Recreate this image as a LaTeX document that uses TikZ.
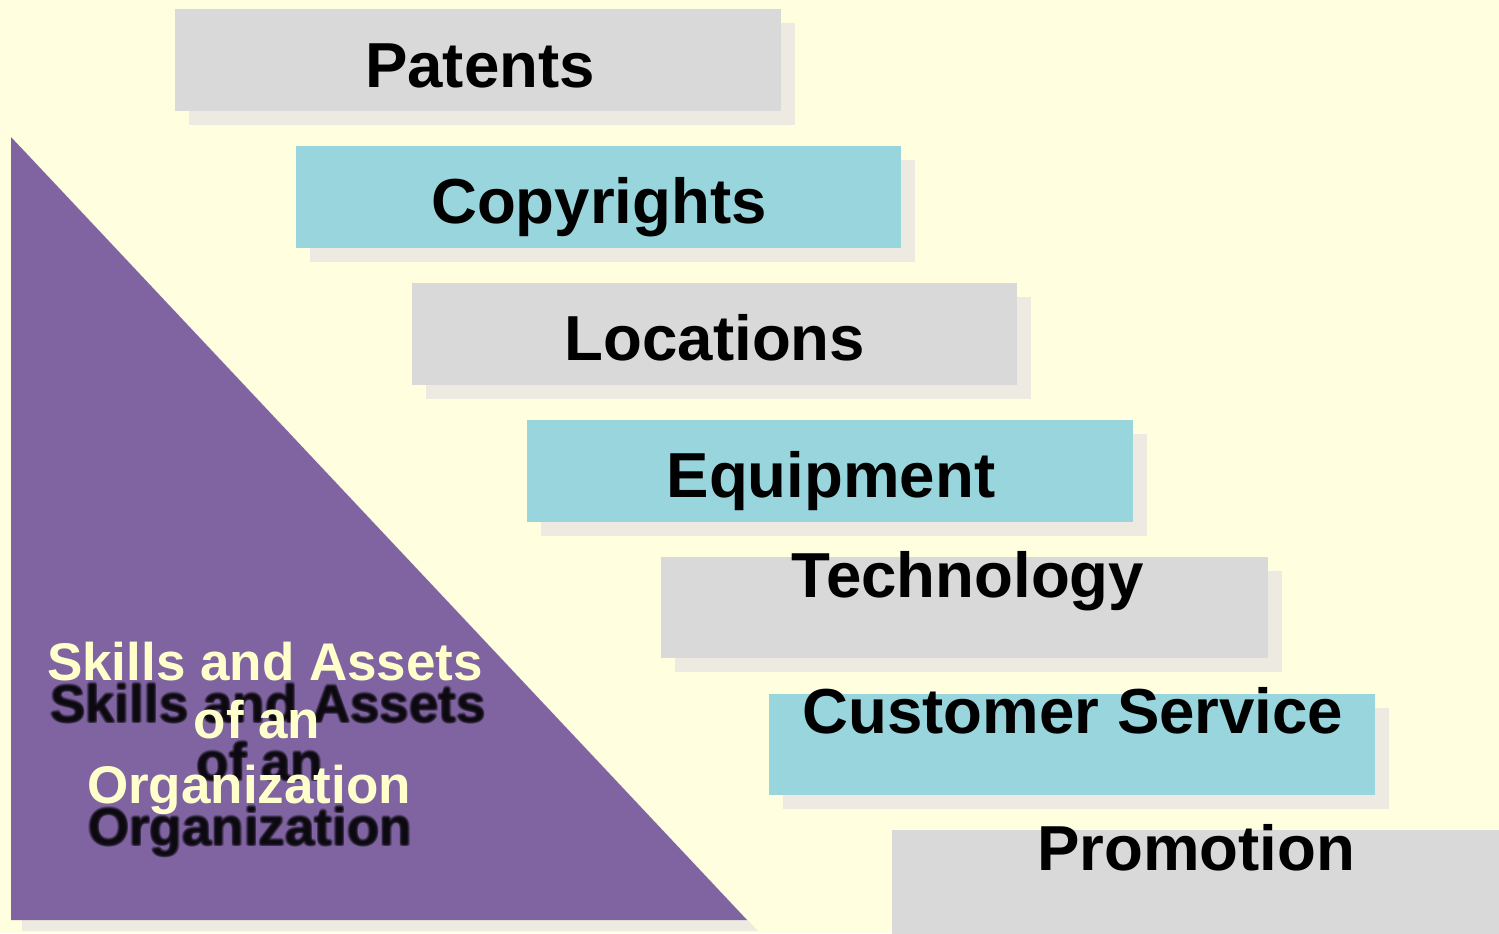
\documentclass[tikz,border=0pt]{standalone}
\usepackage{fontspec}
\setmainfont{Liberation Sans}
\definecolor{bg}{HTML}{FFFFE0}
\definecolor{boxgray}{HTML}{D9D9D9}
\definecolor{boxcyan}{HTML}{99D5DC}
\definecolor{shadowc}{HTML}{EDEBE1}
\definecolor{purp}{HTML}{8064A1}
\definecolor{ltext}{HTML}{FFFFCC}
\begin{document}
\begin{tikzpicture}[x=0.5pt,y=-0.5pt,
  lbl/.style={anchor=base,font=\fontsize{31.8pt}{36pt}\selectfont\bfseries,text=black,inner sep=0pt},
  tri/.style={anchor=base,font=\fontsize{26.5pt}{30pt}\selectfont\bfseries,inner sep=0pt},
  trishadow/.style={tri,text=black,opacity=0.22}]
\useasboundingbox (0,0) rectangle (1499,933);
\fill[bg] (0,0) rectangle (1499,933);
% triangle
\fill[shadowc] (22,148) -- (22,931) -- (758,931) -- cycle;
\fill[purp] (11,137) -- (11,920) -- (747,920) -- cycle;
% boxes: shadow then box
\newcommand\mybox[5]{%
  \fill[shadowc] (#1+14,#2+14) rectangle (#3+14,#4+14);
  \fill[#5] (#1,#2) rectangle (#3,#4);}
\mybox{175}{9}{781}{111}{boxgray}
\mybox{296}{146}{901}{248}{boxcyan}
\mybox{412}{283}{1017}{385}{boxgray}
\mybox{527}{420}{1133}{522}{boxcyan}
\mybox{661}{557}{1268}{658}{boxgray}
\mybox{769}{694}{1375}{795}{boxcyan}
\mybox{892}{830}{1510}{940}{boxgray}
\node[lbl] (patents) at (480,87) {Patents};
\node[lbl] (copy) at (599,223) {Copyrights};
\node[lbl] (loc) at (715,360) {Locations};
\node[lbl] (equip) at (831,497) {Equipment};
\node[lbl] (tech) at (968,597) {Technology};
\node[lbl] (cust) at (1073,733) {Customer Service};
\node[lbl] (promo) at (1196,870) {Promotion};
% blurred shadow text
\foreach \dx/\dy [count=\i] in {0/0,-1.5/0,1.5/0,0/-1.5,0/1.5,-1/-1,1/1,-1/1,1/-1}{
  \node[trishadow] (sh1\i) at (268+\dx,722+\dy) {Skills and Assets};
  \node[trishadow] (sh2\i) at (260+\dx,780+\dy) {of an};
  \node[trishadow] (sh3\i) at (250+\dx,845+\dy) {Organization};
}
\node[tri,text=ltext] (t1) at (265,680) {Skills and Assets};
\node[tri,text=ltext] (t2) at (257,738) {of an};
\node[tri,text=ltext] (t3) at (249,803) {Organization};
\end{tikzpicture}
\end{document}
